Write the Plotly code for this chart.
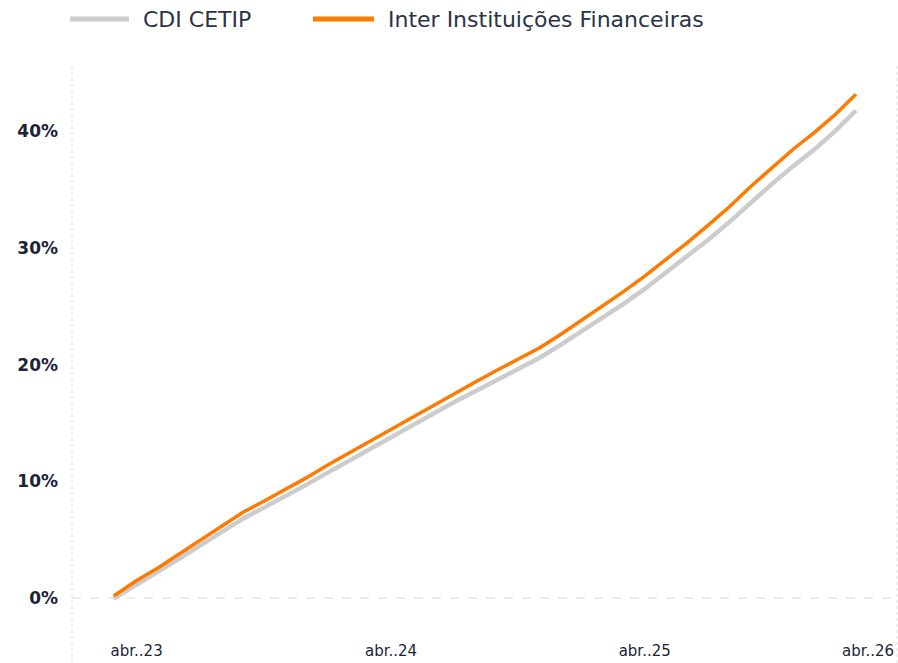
import plotly.graph_objects as go

dates = ["2023-02-27", "2023-03-01", "2023-04-01", "2023-05-01", "2023-06-01", "2023-07-01",
         "2023-08-01", "2023-09-01", "2023-10-01", "2023-11-01", "2023-12-01", "2024-01-01",
         "2024-02-01", "2024-03-01", "2024-04-01", "2024-05-01", "2024-06-01", "2024-07-01",
         "2024-08-01", "2024-09-01", "2024-10-01", "2024-11-01", "2024-12-01", "2025-01-01",
         "2025-02-01", "2025-03-01", "2025-04-01", "2025-05-01", "2025-06-01", "2025-07-01",
         "2025-08-01", "2025-09-01", "2025-10-01", "2025-11-01", "2025-12-01", "2026-01-01",
         "2026-01-30"]

inter = [0.17, 0.25, 1.5, 2.55, 3.75, 4.97, 6.2, 7.35, 8.3, 9.3, 10.3, 11.4,
         12.45, 13.4, 14.5, 15.5, 16.55, 17.55, 18.55, 19.55, 20.5, 21.45, 22.6, 23.85,
         25.1, 26.25, 27.6, 29.0, 30.45, 31.95, 33.55, 35.3, 36.9, 38.5, 39.9, 41.5, 43.2]

cdi = [-0.05, 0.02, 1.2, 2.2, 3.35, 4.5, 5.7, 6.8, 7.75, 8.7, 9.7, 10.75,
       11.8, 12.7, 13.8, 14.8, 15.8, 16.8, 17.75, 18.7, 19.65, 20.6, 21.7, 22.9,
       24.1, 25.2, 26.5, 27.85, 29.25, 30.7, 32.25, 33.95, 35.5, 37.05, 38.45, 40.1, 41.8]

series_names = ["CDI CETIP", "Inter Instituições Financeiras"]
colors = ["#cccccc", "#ff7a00"]

x_tickvals = ["2023-04-01", "2024-04-01", "2025-04-01"]
x_ticktext = ["abr..23", "abr..24", "abr..25"]
last_tick_label = "abr..26"
y_tickvals = [0, 10, 20, 30, 40]
y_ticktext = ["0%", "10%", "20%", "30%", "40%"]

FONT = "DejaVu Sans"
TXT = "#1c2438"

fig = go.Figure()
fig.add_trace(go.Scatter(x=dates, y=cdi, mode="lines", name=series_names[0],
                         line=dict(color=colors[0], width=4.5), showlegend=False))
fig.add_trace(go.Scatter(x=dates, y=inter, mode="lines", name=series_names[1],
                         line=dict(color=colors[1], width=3.5), showlegend=False))

W, H = 898, 663
L, R, T, B = 72, 1, 65, 28
pw, ph = W - L - R, H - T - B

def px(p):
    return (p - L) / pw

def py(p):
    return (H - B - p) / ph

shapes = []
shapes.append(dict(type="line", xref="paper", yref="y", x0=0, x1=1, y0=0, y1=0,
                   line=dict(color="#d8d8d8", width=1, dash="dash")))
for xp in [0, 1]:
    shapes.append(dict(type="line", xref="paper", yref="paper", x0=xp, x1=xp,
                       y0=py(663), y1=1, line=dict(color="#dddddd", width=1, dash="dot")))
shapes.append(dict(type="line", xref="paper", yref="paper", x0=px(70), x1=px(129),
                   y0=py(19), y1=py(19), line=dict(color=colors[0], width=5)))
shapes.append(dict(type="line", xref="paper", yref="paper", x0=px(313), x1=px(374),
                   y0=py(19), y1=py(19), line=dict(color=colors[1], width=5)))

annotations = [
    dict(xref="paper", yref="paper", x=px(141), y=py(20), xanchor="left", yanchor="middle",
         text=series_names[0], showarrow=False, font=dict(family=FONT, size=22, color="#2a3346")),
    dict(xref="paper", yref="paper", x=px(386), y=py(20), xanchor="left", yanchor="middle",
         text=series_names[1], showarrow=False, font=dict(family=FONT, size=22, color="#2a3346")),
    dict(xref="paper", yref="paper", x=px(896), y=py(651), xanchor="right", yanchor="middle",
         text=last_tick_label, showarrow=False, font=dict(family=FONT, size=15, color=TXT)),
]

fig.update_layout(
    width=W, height=H,
    margin=dict(l=L, r=R, t=T, b=B, pad=0),
    paper_bgcolor="white", plot_bgcolor="white",
    shapes=shapes, annotations=annotations,
    xaxis=dict(range=["2022-12-29", "2026-03-30"], tickvals=x_tickvals, ticktext=x_ticktext,
               showgrid=False, zeroline=False, showline=False, ticks="",
               ticklabelstandoff=5,
               tickfont=dict(family=FONT, size=15, color=TXT)),
    yaxis=dict(range=[-3.17, 45.7], tickvals=y_tickvals, ticktext=y_ticktext,
               showgrid=False, zeroline=False, showline=False, ticks="",
               ticklabelstandoff=13,
               tickfont=dict(family=FONT, size=17, color=TXT, weight="bold")),
    showlegend=False,
)

fig.write_html("out.html", config={"displayModeBar": False},
               post_script="document.body.style.margin='0';document.body.style.overflow='hidden';")
